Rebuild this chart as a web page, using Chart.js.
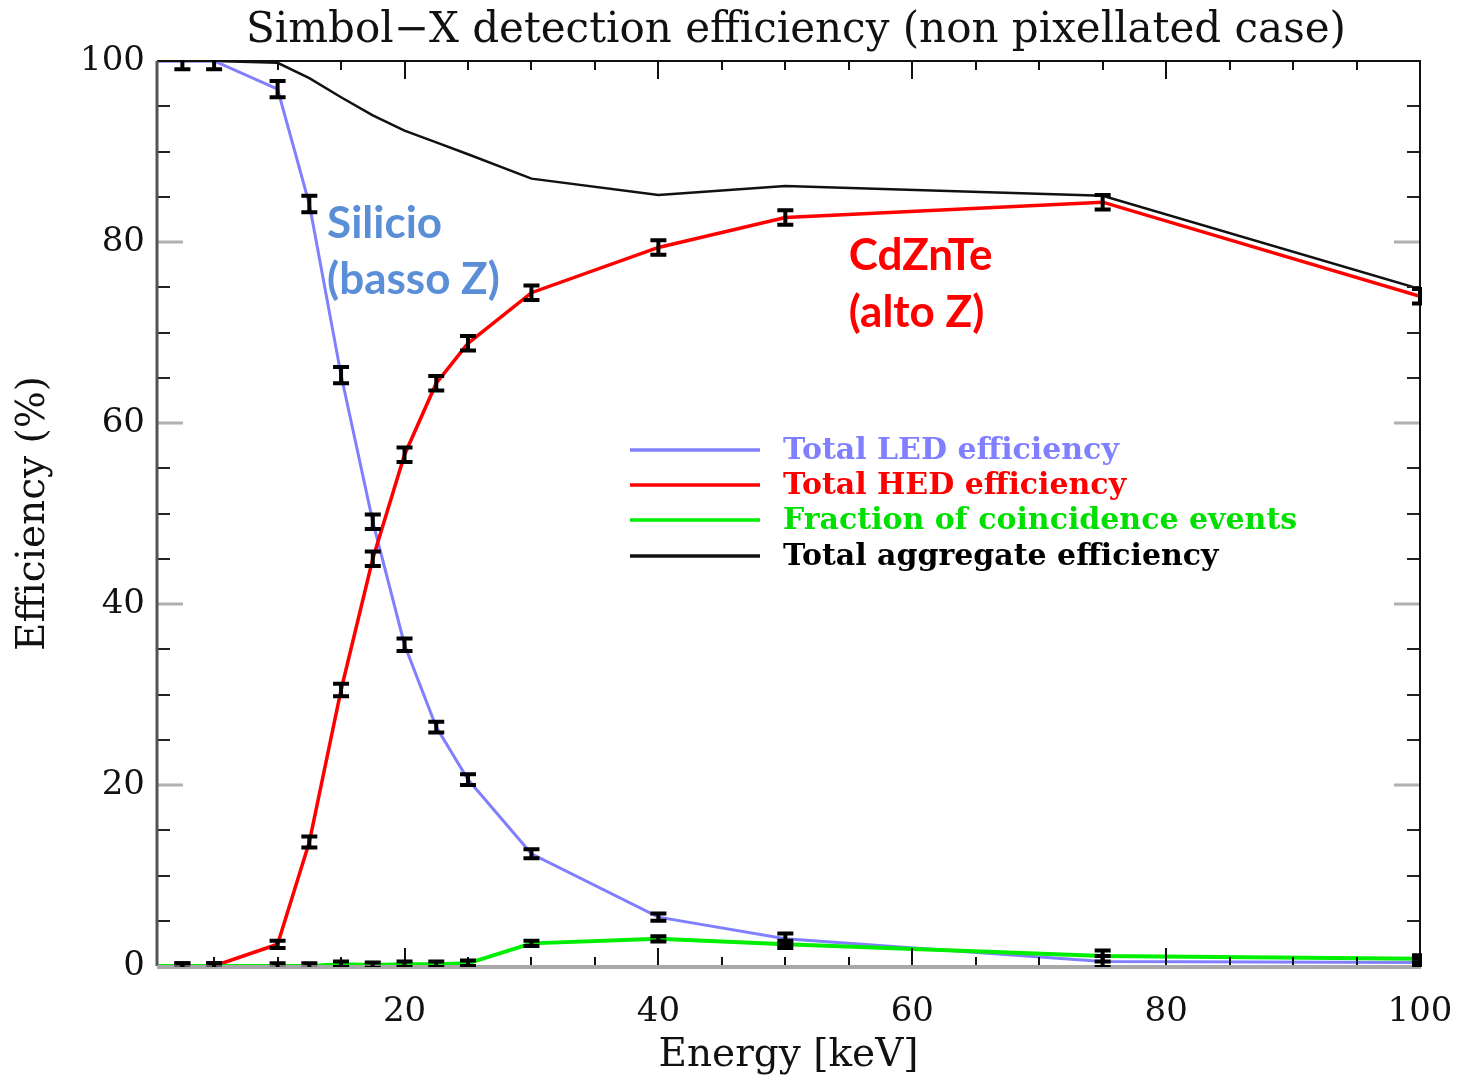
<!DOCTYPE html>
<html><head><meta charset="utf-8">
<script src="https://cdn.jsdelivr.net/npm/chart.js@4"></script>
<style>html,body{margin:0;padding:0;background:#fff}#wrap{width:1457px;height:1080px;position:relative}</style>
</head><body><div id="wrap"><canvas id="c"></canvas></div>
<script>
// ---- data ----
const energy    = [0.5, 2.5, 5, 10, 12.5, 15, 17.5, 20, 22.5, 25, 30, 40, 50, 75, 100];
const ledEff    = [100, 100, 100, 96.9, 84.2, 65.3, 49.1, 35.5, 26.4, 20.6, 12.4, 5.4, 3.0, 0.5, 0.4];
const hedEff    = [0, 0, 0, 2.4, 13.7, 30.5, 45.0, 56.5, 64.4, 68.8, 74.4, 79.4, 82.7, 84.4, 74.0];
const coincFrac = [0, 0, 0, 0, 0, 0.2, 0.1, 0.2, 0.2, 0.3, 2.5, 3.0, 2.4, 1.1, 0.8];
const totalEff  = [100, 100, 100, 99.8, 98.1, 96.0, 94.0, 92.3, 91.0, 89.7, 87.0, 85.2, 86.2, 85.1, 74.8];
const ledErr    = [null, 0.9, 0.9, 0.9, 0.9, 0.9, 0.8, 0.7, 0.6, 0.6, 0.5, 0.4, 0.6, 0.6, 0.4];
const hedErr    = [null, 0.3, 0.3, 0.4, 0.6, 0.7, 0.8, 0.8, 0.8, 0.8, 0.8, 0.8, 0.8, 0.8, 0.8];
const coincErr  = [null, 0.3, 0.3, 0.3, 0.3, 0.3, 0.3, 0.3, 0.3, 0.3, 0.3, 0.3, 0.4, 0.6, 0.4];
const seriesNames = ['Total LED efficiency', 'Total HED efficiency', 'Fraction of coincidence events', 'Total aggregate efficiency'];
const xTickValues = [20, 40, 60, 80, 100];
const yTickValues = [0, 20, 40, 60, 80, 100];
const chartTitle = 'Simbol\u2212X detection efficiency (non pixellated case)';
const xTitle = 'Energy [keV]';
const yTitle = 'Efficiency (%)';
const annotations = [
  {text: 'Silicio',    x: 13.9, y: 82.0, color: '#5a8fd8'},
  {text: '(basso Z)',  x: 13.9, y: 75.8, color: '#5a8fd8'},
  {text: 'CdZnTe',     x: 55.0, y: 78.5, color: '#ff0000'},
  {text: '(alto Z)',   x: 55.0, y: 72.2, color: '#ff0000'}
];

const pts = ys => energy.map((e, i) => ({x: e, y: ys[i]}));
const SERIF = '"DejaVu Serif", "Liberation Serif", serif';

const frameTicks = {
  id: 'frameTicks',
  afterDatasetsDraw(chart) {
    const {ctx, chartArea: a, scales: {x, y}} = chart;
    ctx.save();
    ctx.lineCap = 'butt';
    for (let v = 5; v <= 100; v += 5) {
      const px = Math.round(x.getPixelForValue(v));
      const major = v % 20 === 0;
      const len = major ? 18 : 9;
      ctx.strokeStyle = '#111'; ctx.lineWidth = 2;
      ctx.beginPath();
      ctx.moveTo(px, a.bottom); ctx.lineTo(px, a.bottom - len);
      ctx.moveTo(px, a.top); ctx.lineTo(px, a.top + len);
      ctx.stroke();
    }
    for (let v = 5; v < 100; v += 5) {
      const py = Math.round(y.getPixelForValue(v));
      const major = v % 20 === 0;
      const len = major ? 26 : 13;
      ctx.strokeStyle = major ? '#b0b0b0' : '#222'; ctx.lineWidth = major ? 3 : 2;
      ctx.beginPath();
      ctx.moveTo(a.left, py); ctx.lineTo(a.left + len, py);
      ctx.moveTo(a.right, py); ctx.lineTo(a.right - len, py);
      ctx.stroke();
    }
    ctx.lineWidth = 2; ctx.strokeStyle = '#111';
    ctx.beginPath(); ctx.moveTo(a.left, a.top); ctx.lineTo(a.right, a.top); ctx.lineTo(a.right, a.bottom); ctx.stroke();
    ctx.strokeStyle = '#555'; ctx.lineWidth = 3;
    ctx.beginPath(); ctx.moveTo(a.left, a.top); ctx.lineTo(a.left, a.bottom); ctx.stroke();
    ctx.strokeStyle = '#a8a8a8'; ctx.lineWidth = 4;
    ctx.beginPath(); ctx.moveTo(a.left, a.bottom + 1); ctx.lineTo(a.right + 1, a.bottom + 1); ctx.stroke();
    ctx.restore();
  }
};

const errBars = {
  id: 'errBars',
  afterDatasetsDraw(chart) {
    const {ctx, chartArea: a, scales: {x, y}} = chart;
    ctx.save();
    ctx.beginPath(); ctx.rect(a.left, a.top - 1, a.right - a.left + 2, a.bottom - a.top + 2); ctx.clip();
    ctx.strokeStyle = '#000';
    chart.data.datasets.forEach(ds => {
      if (!ds.errors) return;
      ds.data.forEach((p, j) => {
        const e = ds.errors[j];
        if (e == null) return;
        const px = x.getPixelForValue(p.x);
        const y1 = y.getPixelForValue(p.y - e), y2 = y.getPixelForValue(p.y + e);
        ctx.lineWidth = 4;
        ctx.beginPath(); ctx.moveTo(px, y1); ctx.lineTo(px, y2); ctx.stroke();
        ctx.lineWidth = 4;
        ctx.beginPath();
        ctx.moveTo(px - 8, y1); ctx.lineTo(px + 8, y1);
        ctx.moveTo(px - 8, y2); ctx.lineTo(px + 8, y2);
        ctx.stroke();
      });
    });
    ctx.restore();
  }
};

const decorations = {
  id: 'decorations',
  afterDraw(chart) {
    const {ctx, chartArea: a, scales: {x, y}} = chart;
    ctx.save();
    ctx.fillStyle = '#111';
    ctx.font = '42px ' + SERIF;
    ctx.textAlign = 'center'; ctx.textBaseline = 'middle';
    ctx.fillText(chartTitle, 796, 31);
    const rowY = [450, 485, 520, 556];
    ctx.font = 'bold 30px ' + SERIF;
    ctx.textAlign = 'left'; ctx.textBaseline = 'middle';
    chart.data.datasets.forEach((ds, k) => {
      ctx.strokeStyle = ds.borderColor; ctx.lineWidth = 3.5;
      ctx.beginPath(); ctx.moveTo(630, rowY[k]); ctx.lineTo(760, rowY[k]); ctx.stroke();
      ctx.fillStyle = ds.legendText;
      ctx.fillText(ds.label, 783, rowY[k] + 1);
    });
    ctx.font = 'bold 44px Lato, "Open Sans", sans-serif';
    annotations.forEach(an => {
      ctx.fillStyle = an.color;
      ctx.fillText(an.text, x.getPixelForValue(an.x), y.getPixelForValue(an.y));
    });
    ctx.restore();
  }
};

new Chart(document.getElementById('c'), {
  type: 'line',
  data: {
    datasets: [
      {label: seriesNames[0], data: pts(ledEff), errors: ledErr, borderColor: '#8080ff', legendText: '#7f7fff', borderWidth: 3, order: 2},
      {label: seriesNames[1], data: pts(hedEff), errors: hedErr, borderColor: '#ff0000', legendText: '#ff0000', borderWidth: 3.5, order: 1},
      {label: seriesNames[2], data: pts(coincFrac), errors: coincErr, borderColor: '#00ee00', legendText: '#00e000', borderWidth: 4, order: 0},
      {label: seriesNames[3], data: pts(totalEff), borderColor: '#111111', legendText: '#000000', borderWidth: 2.5, order: 3}
    ]
  },
  options: {
    responsive: true, maintainAspectRatio: false, animation: false,
    layout: {padding: {top: 61, right: 37, left: 0, bottom: 0}},
    elements: {point: {radius: 0, hoverRadius: 0}, line: {tension: 0, fill: false}},
    plugins: {legend: {display: false}, tooltip: {enabled: false}, title: {display: false}},
    scales: {
      x: {
        type: 'linear', min: 0.5, max: 100,
        afterBuildTicks: s => { s.ticks = xTickValues.map(v => ({value: v})); },
        afterFit: s => { s.height = 114; s.paddingLeft = 0; s.paddingRight = 0; },
        grid: {display: false, drawTicks: false}, border: {display: false},
        ticks: {color: '#111', font: {family: SERIF, size: 34}, padding: 26, maxRotation: 0, autoSkip: false},
        title: {display: true, text: xTitle, color: '#111', font: {family: SERIF, size: 39}, padding: {top: 0, bottom: 1}}
      },
      y: {
        type: 'linear', min: 0, max: 100,
        afterBuildTicks: s => { s.ticks = yTickValues.map(v => ({value: v})); },
        afterFit: s => { s.width = 157; s.paddingTop = 0; s.paddingBottom = 0; },
        grid: {display: false, drawTicks: false}, border: {display: false},
        ticks: {color: '#111', font: {family: SERIF, size: 34}, padding: 12},
        title: {display: true, text: yTitle, color: '#111', font: {family: SERIF, size: 39}, padding: {top: 10, bottom: 0}}
      }
    }
  },
  plugins: [frameTicks, errBars, decorations]
});
</script>
</body></html>
